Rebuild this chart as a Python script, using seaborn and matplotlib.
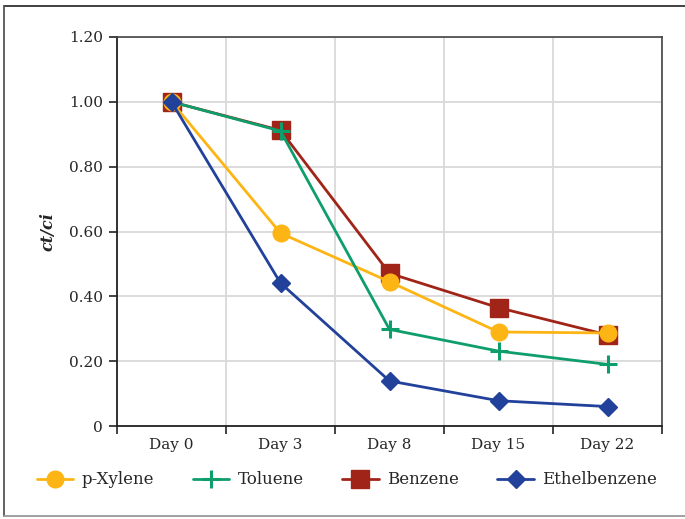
import numpy as np
import pandas as pd
import matplotlib
matplotlib.use("Agg")
import matplotlib.pyplot as plt
import seaborn as sns
from matplotlib.lines import Line2D

days = ["Day 0", "Day 3", "Day 8", "Day 15", "Day 22"]
p_xylene = [1.00, 0.595, 0.445, 0.290, 0.287]
toluene = [1.00, 0.910, 0.298, 0.231, 0.190]
benzene = [1.00, 0.912, 0.471, 0.365, 0.281]
ethylbenzene = [1.00, 0.441, 0.139, 0.078, 0.060]
series_names = ["p-Xylene", "Toluene", "Benzene", "Ethelbenzene"]
yticks = [0, 0.2, 0.4, 0.6, 0.8, 1.0, 1.2]
ytick_labels = ["0", "0.20", "0.40", "0.60", "0.80", "1.00", "1.20"]

sns.set_style("white")
plt.rcParams["font.family"] = ["DejaVu Serif", "Liberation Serif"]

fig = plt.figure(figsize=(6.85, 5.19), dpi=100)
ax = fig.add_axes([117/685, 1-426/519, (662-117)/685, (426-37)/519])

x = np.arange(len(days))
styles = {
    "p-Xylene": dict(color="#FDB515", marker="o", ms=12, mew=1, z=3),
    "Toluene": dict(color="#0E9E6B", marker="+", ms=13, mew=2.2, z=4),
    "Benzene": dict(color="#A02418", marker="s", ms=13, mew=1, z=2),
    "Ethelbenzene": dict(color="#22419A", marker="D", ms=9.5, mew=1, z=5),
}
data = {"p-Xylene": p_xylene, "Toluene": toluene, "Benzene": benzene, "Ethelbenzene": ethylbenzene}

handles = []
for name in series_names:
    st = styles[name]
    df = pd.DataFrame({"x": x, "y": data[name]})
    sns.lineplot(data=df, x="x", y="y", ax=ax, color=st["color"], marker=st["marker"],
                 markersize=st["ms"], markeredgewidth=st["mew"], markeredgecolor=st["color"],
                 linewidth=2, zorder=st["z"], legend=False)
    handles.append(Line2D([], [], color=st["color"], marker=st["marker"], markersize=st["ms"],
                          markeredgewidth=st["mew"], markeredgecolor=st["color"], linewidth=2,
                          label=name))

ax.set_xlim(-0.5, len(days) - 0.5)
ax.set_ylim(0, 1.2)
ax.set_yticks(yticks)
ax.set_yticklabels(ytick_labels, fontsize=11)
ax.set_xticks(np.arange(len(days) + 1) - 0.5)
ax.set_xticklabels([])
ax.set_xticks(x, minor=True)
ax.set_xticklabels(days, minor=True, fontsize=11)
ax.tick_params(axis="x", which="major", direction="out", length=6, width=1.2, color="#222222", bottom=True)
ax.tick_params(axis="x", which="minor", length=0, pad=9)
ax.tick_params(axis="y", direction="out", length=6, width=1.2, color="#222222", left=True, pad=4)
ax.grid(True, which="major", color="#d9d9d9", linewidth=1.3)
ax.set_axisbelow(True)
for s in ["left", "bottom"]:
    ax.spines[s].set_color("#222222")
    ax.spines[s].set_linewidth(1.3)
for s in ["top", "right"]:
    ax.spines[s].set_color("#444444")
    ax.spines[s].set_linewidth(1.2)
ax.set_xlabel("")
ax.set_ylabel("ct/ci", fontsize=11.5, fontweight="bold", fontstyle="italic", labelpad=9)

fig.legend(handles=handles, loc="center", bbox_to_anchor=(347/685, 1-480/519), ncol=4,
           frameon=False, fontsize=12, handlelength=2.2, columnspacing=2.3, handletextpad=0.5)

# figure border
fig.add_artist(Line2D([4/685, 1.0], [1-6/519, 1-6/519], transform=fig.transFigure, color="#333333", lw=1.3))
fig.add_artist(Line2D([4/685, 4/685], [1-6/519, 1-516/519], transform=fig.transFigure, color="#555555", lw=1.3))
fig.add_artist(Line2D([4/685, 1.0], [1-516/519, 1-516/519], transform=fig.transFigure, color="#999999", lw=1.3))

fig.savefig("out.png", dpi=100)
